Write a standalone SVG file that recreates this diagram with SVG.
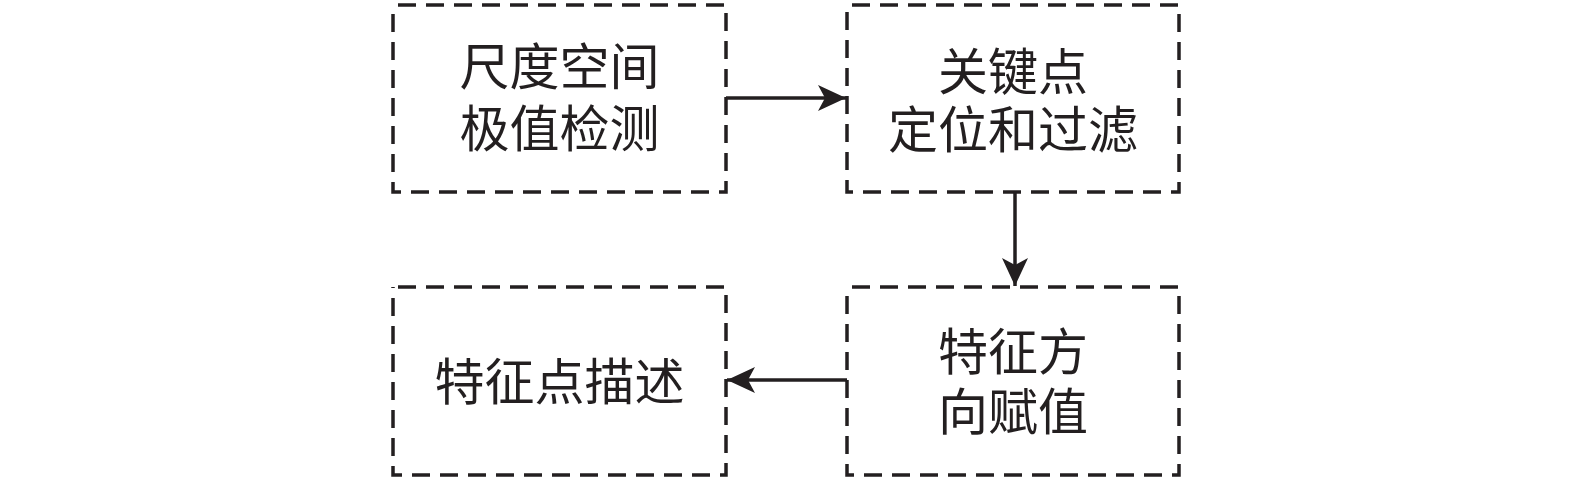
<svg xmlns="http://www.w3.org/2000/svg" width="1575" height="480" viewBox="0 0 1575 480">
<defs>
<style>
.box{fill:none;stroke:#231f20;stroke-width:3.5;stroke-dasharray:18 10;stroke-dashoffset:-5}
.t{font-family:"Noto Sans CJK SC","Noto Sans",sans-serif;font-size:50px;fill:#231f20;text-anchor:middle}
.c{stroke:#231f20;stroke-width:3.5;fill:none}
</style>
<marker id="ah" markerWidth="30" markerHeight="26" refX="28" refY="13" orient="auto" markerUnits="userSpaceOnUse">
<path d="M0,0 L28,13 L0,26 L7,13 Z" fill="#231f20"/>
</marker>
</defs>
<rect width="1575" height="480" fill="#fff"/>
<g id="n1"><rect class="box" x="393" y="5" width="333" height="187"/>
<text class="t" x="559.5" y="85">尺度空间</text><text class="t" x="559.5" y="147">极值检测</text></g>
<g id="n2"><rect class="box" x="847" y="5" width="332" height="187"/>
<text class="t" x="1013" y="90">关键点</text><text class="t" x="1013" y="148">定位和过滤</text></g>
<g id="n3"><rect class="box" x="393" y="287" width="333" height="188"/>
<text class="t" x="559.5" y="400">特征点描述</text></g>
<g id="n4"><rect class="box" x="847" y="287" width="332" height="188"/>
<text class="t" x="1013" y="370">特征方</text><text class="t" x="1013" y="430">向赋值</text></g>
<g id="connectors">
<line class="c" x1="726" y1="98" x2="846" y2="98" marker-end="url(#ah)"/>
<line class="c" x1="1015" y1="192" x2="1015" y2="286" marker-end="url(#ah)"/>
<line class="c" x1="847" y1="380" x2="727" y2="380" marker-end="url(#ah)"/>
</g>
</svg>
